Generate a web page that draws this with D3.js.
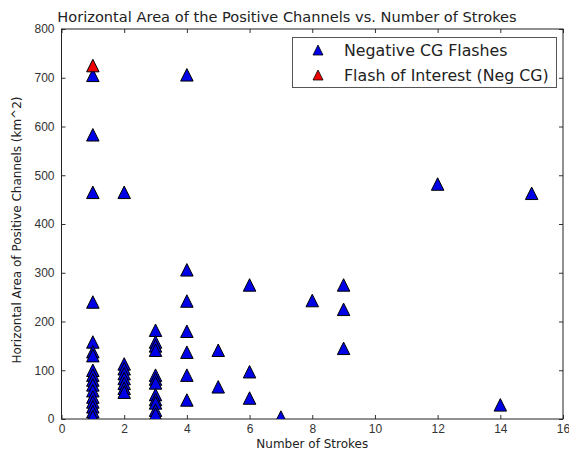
<!DOCTYPE html>
<html>
<head>
<meta charset="utf-8">
<script src="https://cdn.jsdelivr.net/npm/d3@7"></script>
<style>
  html, body { margin: 0; padding: 0; background: #fff; }
  svg { display: block; font-family: "DejaVu Sans", sans-serif; }
</style>
</head>
<body>
<svg id="chart" width="569" height="451"></svg>
<script>
// Number of strokes per flash and horizontal area of its positive channels (km^2)
const strokes = [
  1, 1, 1, 1, 1, 1, 1, 1, 1, 1, 1, 1, 1, 1, 1, 1, 1,
  2, 2, 2, 2, 2, 2, 2, 2,
  3, 3, 3, 3, 3, 3, 3, 3, 3, 3, 3, 3,
  4, 4, 4, 4, 4, 4, 4,
  5, 5,
  6, 6, 6,
  7, 8, 9, 9, 9, 12, 14, 15
];
const areas = [
  705, 583, 465, 240, 158, 138, 130, 100, 90, 80, 70, 58, 45, 35, 25, 15, 5,
  465, 113, 103, 93, 83, 73, 63, 55,
  182, 158, 150, 141, 90, 82, 74, 50, 40, 33, 18, 10,
  706, 306, 242, 180, 137, 90, 39,
  141, 66,
  275, 97, 43,
  4, 243, 275, 225, 145, 482, 29, 463
];
// Flash of interest
const focusStrokes = [1];
const focusAreas = [725];

const xTicks = [0, 2, 4, 6, 8, 10, 12, 14, 16];
const yTicks = [0, 100, 200, 300, 400, 500, 600, 700, 800];
const seriesNames = ["Negative CG Flashes", "Flash of Interest (Neg CG)"];
const seriesColors = ["#0000e6", "#ee0000"];

const W = 569, H = 451;
const m = { left: 61.5, top: 29, right: 6, bottom: 32 };
const svg = d3.select("#chart");

const x = d3.scaleLinear().domain([0, 16]).range([m.left, W - m.right]);
const y = d3.scaleLinear().domain([0, 800]).range([H - m.bottom, m.top]);

// Inward ticks on all four sides
const tickLen = 4;
const axisStyle = g => {
  g.select(".domain").remove();
  g.selectAll(".tick line").attr("stroke", "#333");
  g.selectAll(".tick text").attr("fill", "#333").attr("font-size", 12);
};
svg.append("g").attr("transform", `translate(0,${H - m.bottom})`)
  .call(d3.axisBottom(x).tickValues(xTicks).tickFormat(d3.format("d")).tickSizeInner(-tickLen).tickSizeOuter(0).tickPadding(5))
  .call(axisStyle);
svg.append("g").attr("transform", `translate(0,${m.top})`)
  .call(d3.axisTop(x).tickValues(xTicks).tickFormat("").tickSizeInner(-tickLen).tickSizeOuter(0))
  .call(axisStyle);
svg.append("g").attr("transform", `translate(${m.left},0)`)
  .call(d3.axisLeft(y).tickValues(yTicks).tickFormat(d3.format("d")).tickSizeInner(-tickLen).tickSizeOuter(0).tickPadding(7))
  .call(axisStyle);
svg.append("g").attr("transform", `translate(${W - m.right},0)`)
  .call(d3.axisRight(y).tickValues(yTicks).tickFormat("").tickSizeInner(-tickLen).tickSizeOuter(0))
  .call(axisStyle);

// Frame
svg.append("rect")
  .attr("x", x(0)).attr("y", y(800))
  .attr("width", x(16) - x(0)).attr("height", y(0) - y(800))
  .attr("fill", "none").attr("stroke", "#222").attr("stroke-width", 1);

// Upward triangle centred on its bounding box
const tri = s => `M0,${-s / 2}L${s / 2},${s / 2}L${-s / 2},${s / 2}Z`;

svg.append("clipPath").attr("id", "plot-clip")
  .append("rect").attr("x", x(0)).attr("y", y(800))
  .attr("width", x(16) - x(0)).attr("height", y(0) - y(800));

const plot = svg.append("g").attr("clip-path", "url(#plot-clip)");

plot.selectAll("path.neg")
  .data(d3.zip(strokes, areas))
  .join("path")
  .attr("class", "neg")
  .attr("d", tri(12.5))
  .attr("transform", d => `translate(${x(d[0])},${y(d[1])})`)
  .attr("fill", seriesColors[0])
  .attr("stroke", "#000").attr("stroke-width", 1);

plot.selectAll("path.focus")
  .data(d3.zip(focusStrokes, focusAreas))
  .join("path")
  .attr("class", "focus")
  .attr("d", tri(12.5))
  .attr("transform", d => `translate(${x(d[0])},${y(d[1])})`)
  .attr("fill", seriesColors[1])
  .attr("stroke", "#000").attr("stroke-width", 1);

// Legend
const lg = svg.append("g");
lg.append("rect")
  .attr("x", 292.5).attr("y", 37.5).attr("width", 264).attr("height", 50)
  .attr("fill", "#fff").attr("stroke", "#555").attr("stroke-width", 1);
seriesNames.forEach((name, i) => {
  const cy = 50 + i * 25;
  lg.append("path").attr("d", tri(10))
    .attr("transform", `translate(318,${cy})`)
    .attr("fill", seriesColors[i]).attr("stroke", "#000").attr("stroke-width", 0.8);
  lg.append("text").attr("x", 344).attr("y", cy + 5.5)
    .attr("font-size", 15.8).attr("fill", "#222").text(name);
});

// Title and axis labels
svg.append("text").attr("x", 287).attr("y", 22)
  .attr("text-anchor", "middle").attr("font-size", 14.6).attr("fill", "#222")
  .text("Horizontal Area of the Positive Channels vs. Number of Strokes");
svg.append("text").attr("x", (x(0) + x(16)) / 2).attr("y", 448)
  .attr("text-anchor", "middle").attr("font-size", 12).attr("fill", "#222")
  .text("Number of Strokes");
svg.append("text")
  .attr("transform", `translate(21,${(y(0) + y(800)) / 2 + 6}) rotate(-90)`)
  .attr("text-anchor", "middle").attr("font-size", 12).attr("fill", "#222")
  .text("Horizontal Area of Positive Channels (km^2)");
</script>
</body>
</html>
